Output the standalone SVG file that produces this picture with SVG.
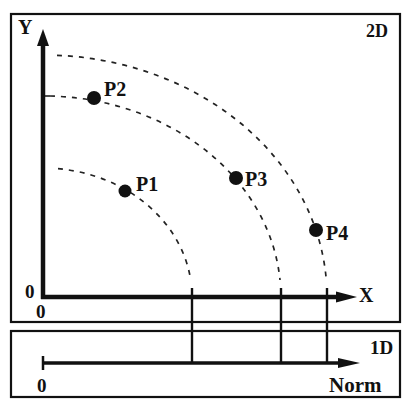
<svg xmlns="http://www.w3.org/2000/svg" width="416" height="400" viewBox="0 0 416 400">
<style>
.box{fill:none;stroke:#111;stroke-width:2.2}
.axis{stroke:#111;stroke-width:4.5;fill:none}
.arc{stroke:#222;stroke-width:1.7;fill:none;stroke-dasharray:5 6}
.proj{stroke:#111;stroke-width:2.4}
.t{font-family:"Liberation Serif",serif;font-weight:bold;fill:#111}
.dot{fill:#111}
</style>
<rect width="416" height="400" fill="#fff"/>
<g id="panel-2d">
<rect class="box" x="11" y="14" width="389" height="308"/>
<text class="t" x="366" y="37" font-size="18">2D</text>
</g>
<g id="panel-1d">
<rect class="box" x="11" y="331" width="389" height="66"/>
<text class="t" x="370" y="354" font-size="19">1D</text>
</g>
<g id="axes">
<line class="axis" x1="43" y1="299" x2="43" y2="42"/>
<polygon points="43,29 37,46 49,46" fill="#111"/>
<line class="axis" x1="41" y1="297" x2="340" y2="297"/>
<polygon points="357,297 336,291.5 336,302.5" fill="#111"/>
<line x1="43" y1="96" x2="50" y2="96" stroke="#111" stroke-width="1.5"/>
<text class="t" x="18" y="34" font-size="20">Y</text>
<text class="t" x="359" y="302" font-size="20">X</text>
<text class="t" x="25" y="298" font-size="19">0</text>
<text class="t" x="36" y="318" font-size="19">0</text>
</g>
<g id="axis-1d">
<line x1="43" y1="363" x2="342" y2="363" stroke="#111" stroke-width="3.5"/>
<line x1="43" y1="356" x2="43" y2="370" stroke="#111" stroke-width="2.5"/>
<polygon points="360,363 338,358 338,368" fill="#111"/>
<text class="t" x="37" y="392" font-size="19">0</text>
<text class="t" x="329" y="392" font-size="21" font-weight="normal">Norm</text>
</g>
<g id="connectors">
<path class="arc" d="M58 168.7 A149 129 0 0 1 190.7 280"/>
<path class="arc" d="M50 96 A238 201 0 0 1 280 280"/>
<path class="arc" d="M57 55.3 A284 242 0 0 1 326.3 280"/>
<line class="proj" x1="192" y1="288" x2="192" y2="364"/>
<line class="proj" x1="281" y1="288" x2="281" y2="364"/>
<line class="proj" x1="327" y1="288" x2="327" y2="364"/>
</g>
<g id="P1"><circle class="dot" cx="125" cy="191" r="6.5"/><text class="t" x="136" y="191" font-size="20">P1</text></g>
<g id="P2"><circle class="dot" cx="94" cy="98" r="7"/><text class="t" x="104" y="96" font-size="20">P2</text></g>
<g id="P3"><circle class="dot" cx="236" cy="178" r="7"/><text class="t" x="245" y="186" font-size="20">P3</text></g>
<g id="P4"><circle class="dot" cx="316" cy="230" r="7"/><text class="t" x="326" y="240" font-size="20">P4</text></g>
</svg>
